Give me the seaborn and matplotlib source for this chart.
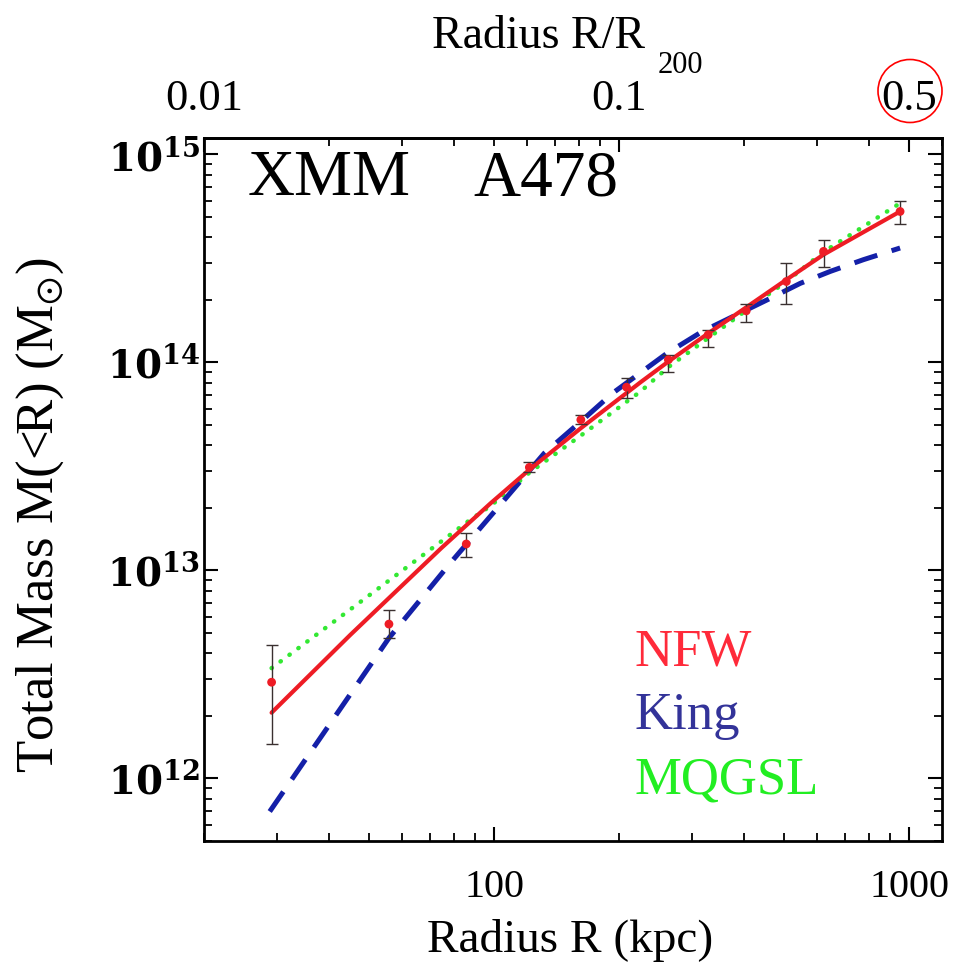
import numpy as np
import pandas as pd
import matplotlib
matplotlib.use("Agg")
import matplotlib.pyplot as plt
import seaborn as sns
from matplotlib.patches import Ellipse
from matplotlib.ticker import NullFormatter

# ---- data ----
R_data = [29.1, 55.8, 85.7, 121.6, 161.8, 208.5, 263, 328, 405, 506, 622, 951]
M_data = [2.9e12, 5.52e12, 1.34e13, 3.13e13, 5.3e13, 7.6e13, 1.03e14, 1.36e14,
          1.77e14, 2.45e14, 3.42e14, 5.32e14]
M_hi = [4.36e12, 6.42e12, 1.51e13, 3.31e13, 5.6e13, 8.4e13, 1.09e14, 1.44e14,
        1.9e14, 3.0e14, 3.89e14, 5.99e14]
M_lo = [1.46e12, 4.73e12, 1.155e13, 2.96e13, 5.04e13, 6.74e13, 8.98e13, 1.19e14,
        1.57e14, 1.91e14, 2.89e14, 4.63e14]

R_nfw = [29.1, 45, 74.6, 98, 121.6, 161.8, 225.5, 263, 328, 405, 506, 622, 951]
M_nfw = [2.07e12, 4.89e12, 1.28e13, 2.1e13, 3.05e13, 4.83e13, 8.04e13, 1.01e14,
         1.38e14, 1.84e14, 2.5e14, 3.3e14, 5.32e14]

R_king = [28.8, 55.8, 78.9, 99.3, 132.1, 161.8, 192.9, 261.5, 317.6, 455, 546.5,
          645.6, 776, 951]
M_king = [6.93e11, 4.73e12, 1.10e13, 1.88e13, 3.66e13, 5.2e13, 7.11e13, 1.11e14,
          1.41e14, 2.0e14, 2.40e14, 2.74e14, 3.12e14, 3.55e14]

R_mq = [29.1, 49.7, 86.5, 98.3, 121.6, 161.8, 225.5, 263, 328, 405, 506, 622, 951]
M_mq = [3.39e12, 7.52e12, 1.72e13, 2.05e13, 2.95e13, 4.45e13, 7.26e13, 9.5e13,
        1.31e14, 1.78e14, 2.45e14, 3.4e14, 5.83e14]

x_ticks = [100, 1000]
x_ticklabels = ["100", "1000"]
y_ticks = [1e12, 1e13, 1e14, 1e15]
y_ticklabels = [r"$10^{12}$", r"$10^{13}$", r"$10^{14}$", r"$10^{15}$"]
top_ticks = [0.01, 0.1, 0.5]
top_ticklabels = ["0.01", "0.1", "0.5"]
R200 = 2000.0

# ---- style ----
sns.set_theme(style="ticks")
plt.rcParams['font.family'] = ['Liberation Serif', 'DejaVu Serif']
plt.rcParams['mathtext.fontset'] = 'custom'
plt.rcParams['mathtext.rm'] = 'Liberation Serif'
plt.rcParams['mathtext.it'] = 'Liberation Serif:italic'
plt.rcParams['mathtext.bf'] = 'Liberation Serif:bold'
plt.rcParams['mathtext.default'] = 'regular'
for k in ['text.color', 'axes.labelcolor', 'xtick.color', 'ytick.color', 'axes.edgecolor']:
    plt.rcParams[k] = 'black'

W, H = 974, 965
fig = plt.figure(figsize=(W / 100, H / 100), dpi=100)
fig.patch.set_facecolor("white")
L, R, T, B = 204, 942, 138, 841
ax = fig.add_axes([L / W, 1 - B / H, (R - L) / W, (B - T) / H])
ax.set_facecolor("white")

c_red = "#ee1c25"
c_blue = "#1420a8"
c_green = "#33e833"

df_nfw = pd.DataFrame({"R": R_nfw, "M": M_nfw})
df_king = pd.DataFrame({"R": R_king, "M": M_king})
df_mq = pd.DataFrame({"R": R_mq, "M": M_mq})

sns.lineplot(data=df_mq, x="R", y="M", color=c_green, lw=3.2,
             linestyle=(0, (0.1, 2.4)), dash_capstyle="round",
             sort=False, estimator=None, ax=ax, zorder=2)
sns.lineplot(data=df_king, x="R", y="M", color=c_blue, lw=3.6,
             linestyle=(0, (4.8, 3.0)), sort=False, estimator=None, ax=ax, zorder=3)
sns.lineplot(data=df_nfw, x="R", y="M", color=c_red, lw=3.0,
             sort=False, estimator=None, ax=ax, zorder=4)

yerr = [np.array(M_data) - np.array(M_lo), np.array(M_hi) - np.array(M_data)]
ax.errorbar(R_data, M_data, yerr=yerr, fmt="none", ecolor="#3a3030",
            elinewidth=1.0, capsize=4, capthick=1.0, zorder=5)
sns.scatterplot(x=R_data, y=M_data, color=c_red, s=40, edgecolor="none",
                ax=ax, zorder=6)

ax.set_xscale("log")
ax.set_yscale("log")
ax.set_xlim(20, 1200)
ax.set_ylim(5e11, 1.2e15)
ax.set_xlabel("")
ax.set_ylabel("")

ax.set_xticks(x_ticks)
ax.set_xticklabels(x_ticklabels)
ax.set_yticks(y_ticks)
ax.set_yticklabels(y_ticklabels, fontfamily="DejaVu Serif", fontweight="bold")
ax.xaxis.set_minor_formatter(NullFormatter())
ax.yaxis.set_minor_formatter(NullFormatter())

for s in ax.spines.values():
    s.set_linewidth(2.0)
    s.set_color("black")

ax.tick_params(which="both", direction="in", top=False, right=True, color="black")
ax.tick_params(which="major", length=10, width=1.5)
ax.tick_params(which="minor", length=5.5, width=1.3)
ax.tick_params(axis="x", which="major", labelsize=29, pad=20)
ax.tick_params(axis="y", which="major", labelsize=28, pad=3)

secax = ax.secondary_xaxis("top", functions=(lambda r: r / R200, lambda q: q * R200))
secax.set_xticks(top_ticks)
secax.set_xticklabels(top_ticklabels)
secax.xaxis.set_minor_formatter(NullFormatter())
secax.tick_params(which="both", direction="in", color="black")
secax.tick_params(which="major", length=10, width=1.5, labelsize=32, pad=14)
secax.tick_params(which="minor", length=5.5, width=1.3)
secax.spines["top"].set_linewidth(2.0)

# axis titles
fig.text(570 / W, 1 - 940 / H, "Radius R (kpc)", ha="center", va="center", fontsize=34)
fig.text(40 / W, 1 - 515 / H, r"Total Mass M(<R) (M$_{\odot}$)", ha="center",
         va="center", rotation=90, fontsize=38)
fig.text(432 / W, 1 - 48 / H, "Radius R/R", ha="left", va="baseline", fontsize=33)
fig.text(658 / W, 1 - 73 / H, "200", ha="left", va="baseline", fontsize=22)

# annotations
fig.text(248 / W, 1 - 195 / H, "XMM", ha="left", va="baseline", fontsize=47)
fig.text(473 / W, 1 - 195 / H, "A478", ha="left", va="baseline", fontsize=47)
fig.text(635 / W, 1 - 665 / H, "NFW", ha="left", va="baseline", fontsize=38, color="#ff2a3a")
fig.text(635 / W, 1 - 729 / H, "King", ha="left", va="baseline", fontsize=38, color="#333399")
fig.text(635 / W, 1 - 793 / H, "MQGSL", ha="left", va="baseline", fontsize=38, color="#22ee22")

fig.add_artist(Ellipse((910 / W, 1 - 91 / H), width=64 / W, height=63 / H,
                       transform=fig.transFigure, fill=False, ec="red", lw=1.2))

fig.savefig("out.png", dpi=100, facecolor="white")
